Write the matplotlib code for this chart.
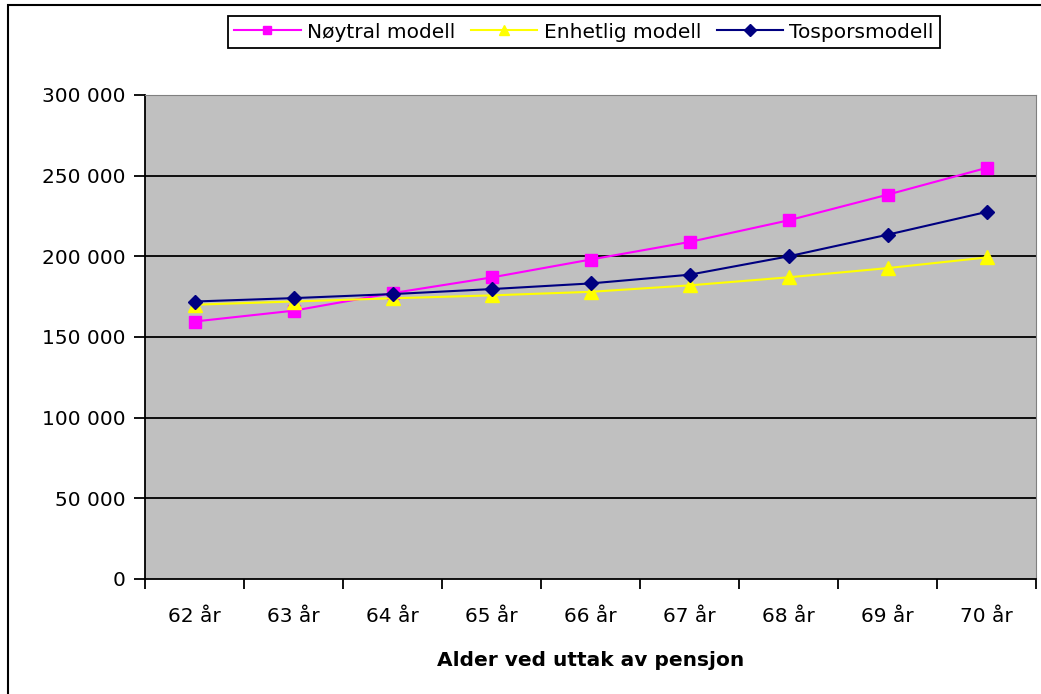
import matplotlib.pyplot as plt
from matplotlib.ticker import FuncFormatter, FixedLocator, NullFormatter
from matplotlib.patches import Rectangle
import numpy as np

plt.rcParams['font.family'] = 'DejaVu Sans'

ages = ['62 år', '63 år', '64 år', '65 år', '66 år', '67 år', '68 år', '69 år', '70 år']
noytral = [159600, 166300, 177200, 186900, 198000, 208900, 222300, 238200, 254800]
enhetlig = [170000, 172000, 174000, 175800, 178000, 182000, 187000, 192700, 199300]
tospors = [172000, 174100, 176600, 179700, 183200, 188600, 200000, 213400, 227500]

fig = plt.figure(figsize=(10.41, 6.94), dpi=100)
ax = fig.add_axes([145/1041, 1 - 579/694, 891/1041, 484/694])
ax.set_facecolor('#C0C0C0')

x = np.arange(len(ages))
ax.plot(x, noytral, color='#FF00FF', lw=1.5, marker='s', ms=8.5, label='Nøytral modell', zorder=3)
ax.plot(x, enhetlig, color='#FFFF00', lw=1.5, marker='^', ms=9.5, label='Enhetlig modell', zorder=4)
ax.plot(x, tospors, color='#000080', lw=1.5, marker='D', ms=7.5, label='Tosporsmodell', zorder=5)

ax.set_xlim(-0.5, len(ages) - 0.5)
ax.set_ylim(0, 300000)
ax.set_yticks(np.arange(0, 300001, 50000))
ax.yaxis.set_major_formatter(FuncFormatter(lambda v, p: f'{int(v):,}'.replace(',', ' ')))
for y in range(50000, 300000, 50000):
    ax.axhline(y, color='black', lw=1.3, zorder=1)

# category labels centred, ticks on the boundaries
ax.xaxis.set_major_locator(FixedLocator(np.arange(-0.5, len(ages), 1)))
ax.xaxis.set_major_formatter(NullFormatter())
ax.xaxis.set_minor_locator(FixedLocator(x))
ax.set_xticklabels(ages, minor=True)
ax.tick_params(axis='x', which='minor', length=0, pad=20, labelsize=14.5)
ax.tick_params(axis='x', which='major', length=7, width=1.3, direction='out')
ax.tick_params(axis='y', length=8, width=1.3, direction='out', labelsize=14.5, pad=6)

ax.spines['left'].set_linewidth(1.3)
ax.spines['bottom'].set_linewidth(1.3)
ax.spines['top'].set_color('#808080')
ax.spines['right'].set_color('#808080')

ax.set_xlabel('Alder ved uttak av pensjon', fontsize=14.5, fontweight='bold', labelpad=18)

leg = ax.legend(loc='center', bbox_to_anchor=(584/1041, 1 - 32/694), bbox_transform=fig.transFigure,
                ncol=3, fontsize=14.5, frameon=True, fancybox=False, edgecolor='black',
                handlelength=3.3, columnspacing=0.8, handletextpad=0.3, borderpad=0.3,
                markerscale=0.75)
leg.get_frame().set_linewidth(1.3)
leg.get_frame().set_alpha(1)

# outer chart frame
fig.patches.append(Rectangle((8/1041, -0.1), 1.2, 1 - 5/694 + 0.1, transform=fig.transFigure,
                             fill=False, edgecolor='black', lw=1.5))

fig.savefig('out.png', dpi=100)
